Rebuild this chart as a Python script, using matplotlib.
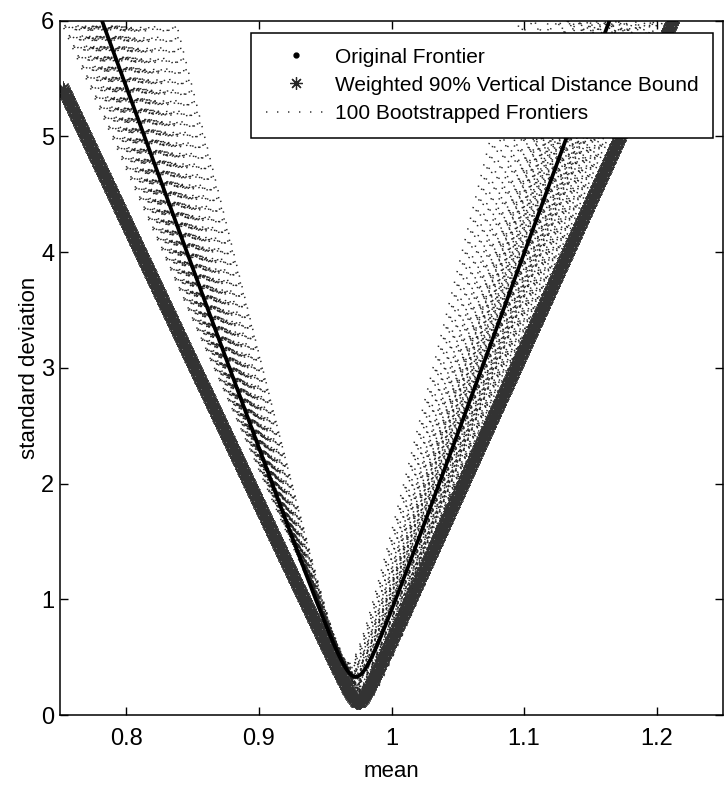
import matplotlib
matplotlib.use("Agg")
import matplotlib.pyplot as plt
from matplotlib.lines import Line2D
import numpy as np

plt.rcParams["font.family"] = ["Liberation Sans", "DejaVu Sans"]

# original sample frontier (hyperbola in mean / std space)
orig_mu0 = 0.973
orig_minsd = 0.33
orig_slope = 31.3

# weighted 90% vertical distance bound
bound_mu0 = 0.975
bound_minsd = 0.11
bound_slope_left = 24.3
bound_slope_right = 25.3
bound_mean_lo = 0.752
bound_mean_hi = 1.213

# 100 bootstrapped frontiers: vertex mean, minimum std, asymptote slope
boot_mu0 = [
    0.975, 0.978, 0.972, 0.976, 0.970, 0.979, 0.974, 0.977, 0.980, 0.971,
    0.976, 0.973, 0.969, 0.978, 0.975, 0.971, 0.977, 0.981, 0.974, 0.968,
    0.976, 0.973, 0.979, 0.972, 0.975, 0.970, 0.980, 0.974, 0.972, 0.977,
    0.981, 0.973, 0.976, 0.971, 0.978, 0.974, 0.969, 0.977, 0.975, 0.972,
    0.979, 0.976, 0.973, 0.978, 0.971, 0.975, 0.970, 0.977, 0.972, 0.982,
    0.974, 0.978, 0.976, 0.970, 0.980, 0.973, 0.975, 0.967, 0.977, 0.972,
    0.975, 0.979, 0.971, 0.974, 0.981, 0.975, 0.971, 0.978, 0.973, 0.976,
    0.968, 0.978, 0.973, 0.980, 0.972, 0.976, 0.970, 0.977, 0.974, 0.972,
    0.979, 0.971, 0.976, 0.973, 0.980, 0.974, 0.969, 0.977, 0.975, 0.971,
    0.982, 0.976, 0.972, 0.978, 0.970, 0.974, 0.977, 0.968, 0.975, 0.973,
]
boot_minsd = [
    0.28, 0.21, 0.35, 0.18, 0.40, 0.24, 0.31, 0.15, 0.26, 0.37,
    0.22, 0.33, 0.43, 0.19, 0.29, 0.38, 0.25, 0.14, 0.32, 0.45,
    0.20, 0.30, 0.23, 0.36, 0.27, 0.41, 0.17, 0.34, 0.29, 0.22,
    0.13, 0.31, 0.26, 0.39, 0.20, 0.33, 0.44, 0.24, 0.28, 0.35,
    0.16, 0.27, 0.32, 0.21, 0.37, 0.30, 0.42, 0.23, 0.34, 0.12,
    0.29, 0.19, 0.25, 0.40, 0.18, 0.33, 0.27, 0.44, 0.22, 0.36,
    0.28, 0.16, 0.38, 0.30, 0.14, 0.26, 0.39, 0.21, 0.35, 0.24,
    0.43, 0.20, 0.31, 0.15, 0.36, 0.27, 0.41, 0.23, 0.32, 0.34,
    0.18, 0.37, 0.25, 0.33, 0.17, 0.30, 0.42, 0.22, 0.28, 0.38,
    0.13, 0.26, 0.35, 0.19, 0.40, 0.31, 0.24, 0.45, 0.29, 0.33,
]
boot_slope = [
    31.2, 28.4, 34.7, 29.9, 38.1, 27.6, 32.8, 30.5, 26.3, 35.4,
    29.1, 33.6, 41.2, 28.9, 31.7, 36.8, 30.2, 27.9, 33.1, 44.5,
    29.6, 32.3, 28.1, 35.9, 30.8, 39.4, 27.2, 31.9, 34.2, 29.4,
    26.8, 33.8, 30.0, 37.5, 28.6, 32.0, 42.7, 29.8, 31.4, 35.1,
    27.4, 30.6, 33.3, 28.3, 36.2, 31.0, 40.3, 29.2, 34.5, 25.9,
    32.6, 28.8, 30.4, 38.7, 27.7, 33.0, 31.6, 46.1, 29.5, 34.9,
    30.9, 28.0, 35.6, 32.2, 26.5, 31.3, 37.0, 29.0, 33.9, 30.3,
    43.4, 28.5, 32.9, 27.1, 35.2, 30.7, 39.9, 29.7, 31.8, 34.0,
    28.2, 36.5, 30.1, 33.4, 27.5, 32.4, 41.8, 29.3, 31.1, 35.8,
    26.1, 30.6, 34.3, 28.7, 37.9, 32.5, 29.9, 45.2, 31.5, 33.7,
]

x_ticks = [0.8, 0.9, 1.0, 1.1, 1.2]
x_ticklabels = ["0.8", "0.9", "1", "1.1", "1.2"]
y_ticks = [0, 1, 2, 3, 4, 5, 6]

legend_labels = ["Original Frontier",
                 "Weighted 90% Vertical Distance Bound",
                 "100 Bootstrapped Frontiers"]

DOT_ON, DOT_OFF = 0.9, 6.3


def frontier_sd(mu, mu0, minsd, slope):
    return np.sqrt(minsd ** 2 + (slope * (mu - mu0)) ** 2)


def frontier_means(mu0, minsd, slope, sd_top=6.4, n=800):
    half = np.sqrt(sd_top ** 2 - minsd ** 2) / slope
    return np.linspace(mu0 - half, mu0 + half, n)


fig = plt.figure(figsize=(7.25, 7.9), dpi=100)
ax = fig.add_axes([0.0828, 0.0949, 0.9144, 0.8791])

# bootstrapped frontiers, dotted; dot phase shifted a little per curve
period = DOT_ON + DOT_OFF
for i, (m0, s0, k) in enumerate(zip(boot_mu0, boot_minsd, boot_slope)):
    mu = frontier_means(m0, s0, k)
    phase = ((i * 0.618) % 1.0) * 0.45 * period
    ax.plot(mu, frontier_sd(mu, m0, s0, k), color="0.15", lw=1.1,
            ls=(phase, (DOT_ON, DOT_OFF)), zorder=1)

# 90% bound drawn as densely packed asterisks
mu_b = np.linspace(bound_mean_lo, bound_mean_hi, 1100)
k_b = np.where(mu_b < bound_mu0, bound_slope_left, bound_slope_right)
ax.plot(mu_b, frontier_sd(mu_b, bound_mu0, bound_minsd, k_b), ls="none",
        marker=(8, 2, 0), ms=10, mew=0.7, color="0.2", zorder=2)

# original frontier
mu_o = frontier_means(orig_mu0, orig_minsd, orig_slope, sd_top=6.6, n=1500)
ax.plot(mu_o, frontier_sd(mu_o, orig_mu0, orig_minsd, orig_slope),
        color="k", lw=2.7, solid_capstyle="round", zorder=3)

ax.set_xlim(0.75, 1.25)
ax.set_ylim(0, 6)
ax.set_xticks(x_ticks)
ax.set_xticklabels(x_ticklabels)
ax.set_yticks(y_ticks)
ax.tick_params(direction="in", top=True, right=True, length=6, width=1,
               labelsize=17)
ax.tick_params(axis="x", pad=9)
ax.tick_params(axis="y", pad=4)
for sp in ax.spines.values():
    sp.set_linewidth(1.1)

ax.set_xlabel("mean", fontsize=16, labelpad=8)
ax.set_ylabel("standard deviation", fontsize=16, labelpad=1)

handles = [
    Line2D([], [], ls="none", marker=".", ms=7, color="k"),
    Line2D([], [], ls="none", marker=(8, 2, 0), ms=9, mew=0.9, color="0.15"),
    Line2D([], [], ls=(0, (DOT_ON, DOT_OFF)), lw=1.1, color="0.2"),
]
leg = ax.legend(handles, legend_labels, loc="upper right",
                bbox_to_anchor=(0.985, 0.982), borderaxespad=0,
                fancybox=False, edgecolor="k", framealpha=1, fontsize=15,
                handlelength=2.9, handletextpad=0.4, labelspacing=0.44,
                borderpad=0.7)
leg.get_frame().set_linewidth(1.1)

plt.savefig("out.png", dpi=100)
